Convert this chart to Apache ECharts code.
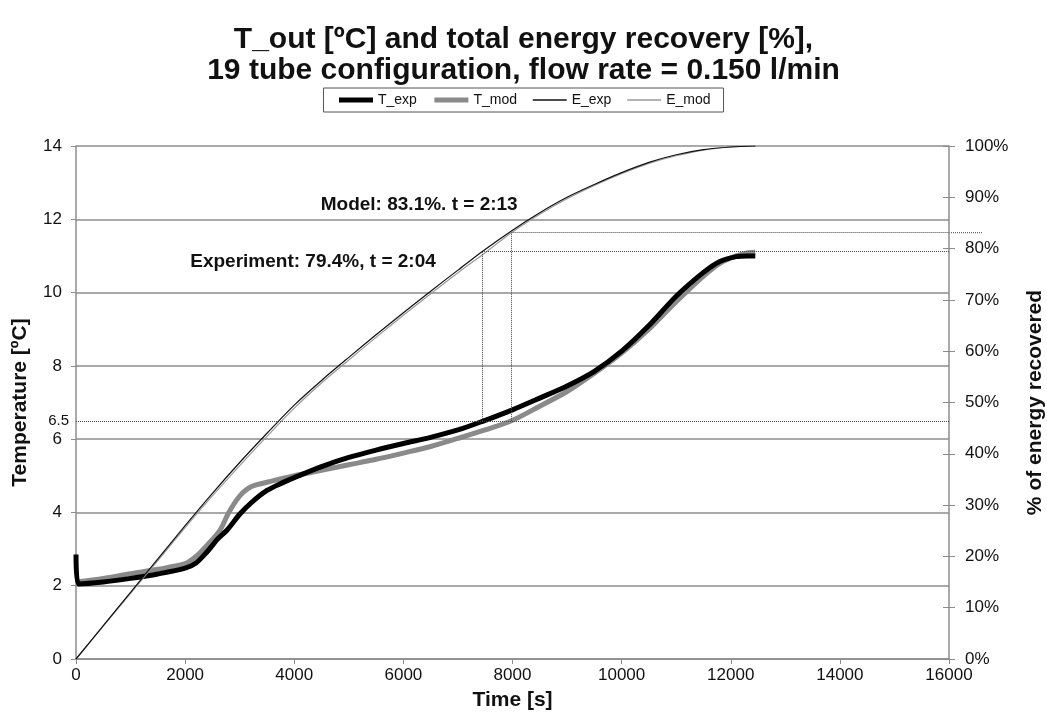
<!DOCTYPE html>
<html>
<head>
<meta charset="utf-8">
<script src="https://cdn.jsdelivr.net/npm/echarts@6/dist/echarts.min.js"></script>
<style>
  html, body { margin: 0; padding: 0; background: #fff; }
  #chart { width: 1047px; height: 726px; }
</style>
</head>
<body>
<div id="chart"></div>
<script>
// T_exp, measured outlet temperature [ºC]
const tExpTime = [0, 40, 500, 1000, 1500, 2000, 2200, 2400, 2600, 2770, 3000, 3200, 3500, 3800, 4000, 4500, 5000, 5500, 6000, 6500, 7000, 7440, 8000, 8500, 9000, 9500, 10000, 10500, 11000, 11500, 11800, 12100, 12300, 12450]
const tExpVals = [2.85, 2.05, 2.1, 2.2, 2.32, 2.48, 2.62, 2.92, 3.28, 3.52, 3.95, 4.25, 4.6, 4.82, 4.95, 5.25, 5.5, 5.7, 5.88, 6.05, 6.25, 6.48, 6.8, 7.12, 7.45, 7.85, 8.4, 9.1, 9.9, 10.55, 10.85, 10.98, 11.0, 11.0]

// T_mod, model outlet temperature [ºC]
const tModTime = [0, 500, 1000, 1500, 2000, 2200, 2400, 2640, 2800, 3000, 3150, 3300, 3600, 4000, 4500, 5000, 5500, 6000, 6500, 7000, 7500, 7980, 8500, 9000, 9500, 10000, 10500, 11000, 11500, 11800, 12100, 12300, 12450]
const tModVals = [2.1, 2.2, 2.33, 2.45, 2.6, 2.8, 3.1, 3.52, 4.0, 4.45, 4.65, 4.75, 4.86, 5.0, 5.15, 5.3, 5.45, 5.62, 5.8, 6.02, 6.25, 6.5, 6.9, 7.3, 7.8, 8.35, 9.0, 9.75, 10.45, 10.8, 11.0, 11.08, 11.1]

// E_exp / E_mod, energy recovered [%]
const eExpTime = [0, 500, 1000, 1500, 2000, 2500, 3000, 3500, 4000, 4500, 5000, 5500, 6000, 6500, 7000, 7440, 8000, 8500, 9000, 9500, 10000, 10500, 11000, 11500, 12000, 12450]
const eExpVals = [0, 6.5, 13, 19.5, 26, 32.3, 38.3, 44, 49.5, 54.3, 58.8, 63.2, 67.5, 71.7, 75.8, 79.4, 83.6, 87, 90, 92.5, 94.8, 96.8, 98.3, 99.3, 99.8, 100]
const eModTime = [0, 500, 1000, 1500, 2000, 2500, 3000, 3500, 4000, 4500, 5000, 5500, 6000, 6500, 7000, 7500, 7980, 8500, 9000, 9500, 10000, 10500, 11000, 11500, 12000, 12450]
const eModVals = [0, 6.4, 12.8, 19.2, 25.6, 31.8, 37.7, 43.4, 48.9, 53.8, 58.3, 62.7, 67, 71.2, 75.3, 79.2, 83.1, 86.7, 89.7, 92.3, 94.6, 96.6, 98.1, 99.2, 99.8, 100]

// axes
const tempMax = 14
const tempStep = 2
const pctMax = 100
const pctStep = 10
const timeMax = 16000
const timeStep = 2000

// annotation values
const refTemp = 6.5
const expMark = { t: 7440, pct: 79.4, text: 'Experiment: 79.4%, t = 2:04', at: [4344, 77.4] }
const modMark = { t: 7980, pct: 83.1, text: 'Model: 83.1%. t = 2:13', at: [6290, 88.5] }

const zip = (xs, ys) => xs.map((x, i) => [x, ys[i]])
const refPct = refTemp / tempMax * pctMax

const font = 'Liberation Sans, Arial, sans-serif'
const gridGray = '#8c8c8c'
const nameStyle = { fontSize: 21, fontWeight: 'bold', color: '#111' }

const chart = echarts.init(document.getElementById('chart'), null, { renderer: 'canvas' })

const dotted = { type: 'dotted', color: '#444', width: 1 }

chart.setOption({
  animation: false,
  textStyle: { fontFamily: font },
  title: {
    text: 'T_out [ºC] and total energy recovery [%],\n19 tube configuration, flow rate = 0.150 l/min',
    left: 'center',
    top: 24,
    padding: 0,
    textStyle: { fontSize: 30, fontWeight: 'bold', color: '#111', lineHeight: 31, fontFamily: font }
  },
  legend: {
    top: 88,
    left: 'center',
    data: [
      { name: 'T_exp', lineStyle: { width: 5 } },
      { name: 'T_mod', lineStyle: { width: 5 } },
      { name: 'E_exp', lineStyle: { width: 1.5 } },
      { name: 'E_mod', lineStyle: { width: 1.5 } }
    ],
    itemStyle: { opacity: 0 },
    borderColor: '#555',
    borderWidth: 1,
    borderRadius: 0,
    padding: [5, 13, 5, 13],
    itemGap: 15,
    itemWidth: 34,
    itemHeight: 12,
    textStyle: { fontSize: 14, color: '#111', fontFamily: font }
  },
  grid: { left: 76, right: 98, top: 146, bottom: 67, containLabel: false, outerBoundsMode: 'none' },
  xAxis: {
    type: 'value',
    min: 0,
    max: timeMax,
    interval: timeStep,
    name: 'Time [s]',
    nameLocation: 'middle',
    nameGap: 31,
    nameTextStyle: nameStyle,
    axisLine: { lineStyle: { color: gridGray, width: 1.5 } },
    axisTick: { show: true, length: 5, lineStyle: { color: gridGray } },
    axisLabel: { fontSize: 17, color: '#111', margin: 8, formatter: v => String(v) },
    splitLine: { show: false }
  },
  yAxis: [
    {
      type: 'value',
      min: 0,
      max: tempMax,
      interval: tempStep,
      name: 'Temperature [ºC]',
      nameLocation: 'middle',
      nameGap: 45,
      nameTextStyle: nameStyle,
      axisLine: { show: true, lineStyle: { color: gridGray, width: 1.5 } },
      axisTick: { show: true, length: 5, lineStyle: { color: gridGray } },
      axisLabel: { fontSize: 17, color: '#111', margin: 14 },
      splitLine: { show: true, lineStyle: { color: gridGray, width: 1.5 } }
    },
    {
      type: 'value',
      min: 0,
      max: pctMax,
      interval: pctStep,
      position: 'right',
      name: '% of energy recovered',
      nameLocation: 'middle',
      nameGap: 76,
      nameRotate: 90,
      nameTextStyle: nameStyle,
      axisLine: { show: true, lineStyle: { color: gridGray, width: 1.5 } },
      axisTick: { show: true, length: 6, lineStyle: { color: gridGray } },
      axisLabel: { fontSize: 17, color: '#111', margin: 16, formatter: '{value}%' },
      splitLine: { show: false }
    },
    {
      // inner half of the crossing ticks on the right axis
      type: 'value',
      min: 0,
      max: pctMax,
      interval: pctStep,
      position: 'right',
      axisLine: { show: false },
      axisTick: { show: true, inside: true, length: 6, lineStyle: { color: gridGray } },
      axisLabel: { show: false },
      splitLine: { show: false }
    }
  ],
  series: [
    {
      name: 'T_mod',
      type: 'line',
      data: zip(tModTime, tModVals),
      smooth: 0.3,
      symbol: 'none',
      color: '#8a8a8a',
      lineStyle: { color: '#8a8a8a', width: 5 },
      z: 3
    },
    {
      name: 'T_exp',
      type: 'line',
      data: zip(tExpTime, tExpVals),
      smooth: 0.3,
      symbol: 'none',
      color: '#000',
      lineStyle: { color: '#000', width: 5 },
      z: 4
    },
    {
      name: 'E_exp',
      type: 'line',
      yAxisIndex: 1,
      data: zip(eExpTime, eExpVals),
      smooth: 0.3,
      symbol: 'none',
      color: '#111',
      lineStyle: { color: '#111', width: 1.2 },
      z: 5,
      markLine: {
        silent: true,
        symbol: 'none',
        lineStyle: dotted,
        label: { show: false },
        data: [
          [{ coord: [0, refPct], label: { show: true, position: 'start', formatter: String(refTemp), fontSize: 15, color: '#111', distance: 7 } }, { coord: [timeMax, refPct] }],
          [{ coord: [expMark.t, refPct] }, { coord: [expMark.t, expMark.pct] }],
          [{ coord: [expMark.t, expMark.pct] }, { coord: [timeMax, expMark.pct] }],
          [{ coord: [modMark.t, refPct] }, { coord: [modMark.t, modMark.pct] }],
          [{ coord: [modMark.t, modMark.pct] }, { coord: [timeMax, modMark.pct] }]
        ]
      },
      markPoint: {
        silent: true,
        symbolSize: 1,
        itemStyle: { color: 'rgba(0,0,0,0)' },
        label: { show: true, position: 'inside', fontSize: 19, fontWeight: 'bold', color: '#111' },
        data: [
          { coord: modMark.at, label: { formatter: modMark.text } },
          { coord: expMark.at, label: { formatter: expMark.text } }
        ]
      }
    },
    {
      name: 'E_mod',
      type: 'line',
      yAxisIndex: 1,
      data: zip(eModTime, eModVals),
      smooth: 0.3,
      symbol: 'none',
      color: '#9a9a9a',
      lineStyle: { color: '#9a9a9a', width: 1.2 },
      z: 4
    }
  ]
})

// model line runs a bit past the right axis
const p0 = chart.convertToPixel({ xAxisIndex: 0, yAxisIndex: 1 }, [timeMax, modMark.pct])
chart.setOption({
  graphic: [{
    type: 'line',
    silent: true,
    shape: { x1: p0[0], y1: p0[1], x2: p0[0] + 34, y2: p0[1] },
    style: { stroke: '#444', lineWidth: 1, lineDash: [1, 1] }
  }]
})
</script>
</body>
</html>
